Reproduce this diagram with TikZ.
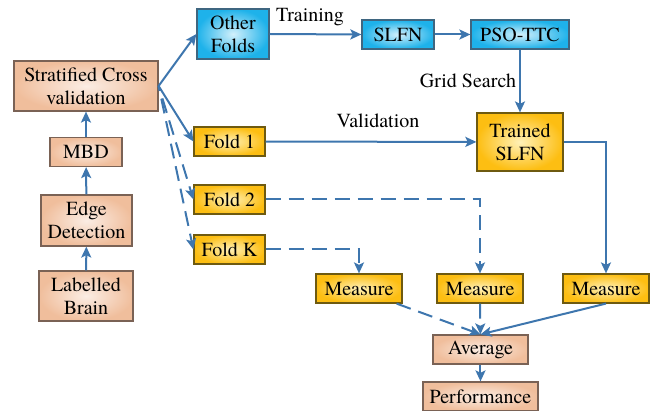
\documentclass[tikz,border=0pt]{standalone}
\usepackage{fontspec}
\setmainfont{texgyretermes}[Extension=.otf,UprightFont=*-regular,BoldFont=*-bold]
\usetikzlibrary{arrows.meta,positioning}

\definecolor{linkblue}{HTML}{3E76AE}
\definecolor{peachout}{HTML}{F0BE9C}
\definecolor{peachin}{HTML}{FBEDE4}
\definecolor{peachline}{HTML}{7A6255}
\definecolor{goldout}{HTML}{FDBE12}
\definecolor{goldin}{HTML}{FFF1B8}
\definecolor{goldline}{HTML}{6E5A10}
\definecolor{skyout}{HTML}{1EB2EA}
\definecolor{skyin}{HTML}{D2F0FB}
\definecolor{skyline}{HTML}{3F6680}

\begin{document}
\begin{tikzpicture}[x=0.5pt,y=-0.5pt,>={Stealth[length=5.5pt,width=5pt,inset=1.2pt]},
  every node/.style={font=\fontsize{10}{11.5}\selectfont,align=center,inner sep=1pt},
  peachbox/.style={draw=peachline,line width=0.6pt,inner color=peachin,outer color=peachout},
  goldbox/.style={draw=goldline,line width=0.6pt,inner color=goldin,outer color=goldout},
  skybox/.style={draw=skyline,line width=0.6pt,inner color=skyin,outer color=skyout},
  link/.style={->,draw=linkblue,line width=1pt},
  dlink/.style={link,dash pattern=on 7.5pt off 4pt}]
  \useasboundingbox (0,0) rectangle (661,411);
  % preprocessing column
  \node[peachbox,minimum width=47pt,minimum height=25pt] (brain) at (86,296) {Labelled\\Brain};
  \node[peachbox,minimum width=45.5pt,minimum height=25.5pt] (edge) at (86.5,220.5) {Edge\\Detection};
  \node[peachbox,minimum width=36pt,minimum height=14.5pt] (mbd) at (86,152) {MBD};
  \node[peachbox,minimum width=72pt,minimum height=25pt] (strat) at (86,86) {Stratified Cross\\validation};
  % folds
  \node[skybox,minimum width=36pt,minimum height=25pt] (other) at (233,34) {Other\\Folds};
  \node[goldbox,minimum width=35.5pt,minimum height=14.5pt] (fold1) at (229.5,141.5) {Fold 1};
  \node[goldbox,minimum width=35.5pt,minimum height=14.5pt] (fold2) at (229.5,199.5) {Fold 2};
  \node[goldbox,minimum width=35.5pt,minimum height=14.5pt] (foldk) at (229.5,249.5) {Fold K};
  % training branch
  \node[skybox,minimum width=36pt,minimum height=14.5pt] (slfn) at (398,34.5) {SLFN};
  \node[skybox,minimum width=49pt,minimum height=14.5pt] (pso) at (520,34.5) {PSO-TTC};
  \node[goldbox,minimum width=43pt,minimum height=29pt] (trained) at (520,142) {Trained\\SLFN};
  % evaluation
  \node[goldbox,minimum width=43pt,minimum height=14.5pt] (meas1) at (359,288.5) {Measure};
  \node[goldbox,minimum width=43pt,minimum height=14.5pt] (meas2) at (480,288.5) {Measure};
  \node[goldbox,minimum width=43pt,minimum height=14.5pt] (meas3) at (606,288.5) {Measure};
  \node[peachbox,minimum width=47.5pt,minimum height=14.5pt] (avg) at (480.5,349.5) {Average};
  \node[peachbox,minimum width=57.5pt,minimum height=14.5pt] (perf) at (480.5,396.5) {Performance};

  \draw[link] (brain) -- (edge);
  \draw[link] (edge) -- (mbd);
  \draw[link] (mbd) -- (strat);
  \draw[link] (strat.east) -- (other.west);
  \draw[link] (strat.east) -- (fold1.west);
  \draw[dlink,dash phase=5pt] (strat.east) -- (fold2.west);
  \draw[dlink,dash phase=5pt] (strat.east) -- (foldk.west);
  \draw[link] (other.east) -- (slfn.west);
  \node (train) at (310,17) {Training};
  \draw[link] (slfn) -- (pso);
  \draw[link] (pso) -- (trained);
  \node (grid) at (468,81) {Grid Search};
  \draw[link] (fold1) -- (trained);
  \node (valid) at (378,121) {Validation};
  \draw[link] (trained.east) -| (meas3.north);
  \draw[dlink] (fold2.east) -| (meas2.north);
  \draw[dlink] (foldk.east) -| (meas1.north);
  \draw[dlink] ([xshift=-3pt]meas1.south east) -- (avg.north);
  \draw[dlink] (meas2) -- (avg);
  \draw[link] (meas3.south) -- (avg.north);
  \draw[link] (avg) -- (perf);
\end{tikzpicture}
\end{document}
